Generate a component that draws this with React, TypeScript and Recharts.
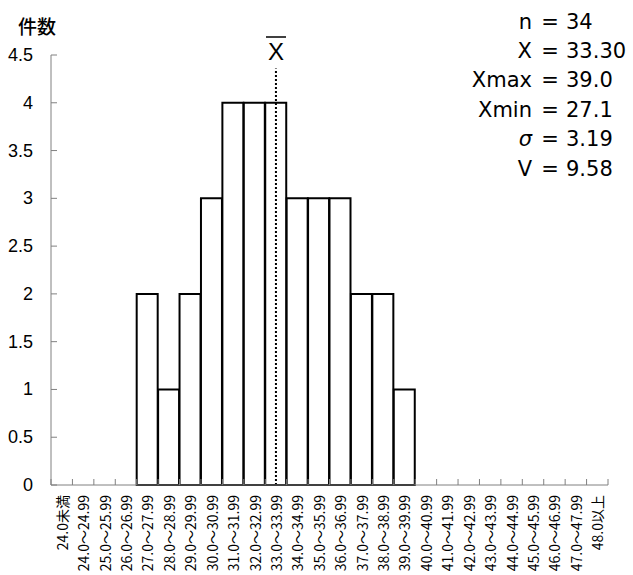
import { BarChart, Bar, XAxis, YAxis, ReferenceLine } from 'recharts';

const categories = [
    '24.0未満', '24.0～24.99', '25.0～25.99', '26.0～26.99', '27.0～27.99',
    '28.0～28.99', '29.0～29.99', '30.0～30.99', '31.0～31.99', '32.0～32.99',
    '33.0～33.99', '34.0～34.99', '35.0～35.99', '36.0～36.99', '37.0～37.99',
    '38.0～38.99', '39.0～39.99', '40.0～40.99', '41.0～41.99', '42.0～42.99',
    '43.0～43.99', '44.0～44.99', '45.0～45.99', '46.0～46.99', '47.0～47.99',
    '48.0以上',
];
const counts = [0, 0, 0, 0, 2, 1, 2, 3, 4, 4, 4, 3, 3, 3, 2, 2, 1, 0, 0, 0, 0, 0, 0, 0, 0, 0];
const yTicks = [0, 0.5, 1, 1.5, 2, 2.5, 3, 3.5, 4, 4.5];
const meanCategory = '33.0～33.99';
const meanLineTop = 4.36;
const statLabels = ['n', 'X', 'Xmax', 'Xmin', 'σ', 'V'];
const statValues = ['34', '33.30', '39.0', '27.1', '3.19', '9.58'];

const data = categories.map((c, i) => ({ range: c, count: counts[i] }));

const AXIS_GRAY = '#808080';
const LATIN = '"Liberation Sans", Arial, sans-serif';
const JP = '"Noto Sans CJK JP", sans-serif';

function YTick(props: any) {
    const { x, y, payload } = props;
    return (
        <g>
            <line x1={x} y1={y} x2={x + 6} y2={y} stroke={AXIS_GRAY} strokeWidth={1} />
            <text x={x - 18} y={y} textAnchor="end" dominantBaseline="central" fontSize={18} fontFamily={LATIN} fill="#000">
                {payload.value}
            </text>
        </g>
    );
}

function XTick(props: any) {
    const { x, y, payload, index } = props;
    const half = payload.offset || 10.7;
    const last = index === categories.length - 1;
    return (
        <g>
            <line x1={x - half} y1={y} x2={x - half} y2={y - 6} stroke={AXIS_GRAY} strokeWidth={1} />
            {last && <line x1={x + half} y1={y} x2={x + half} y2={y - 6} stroke={AXIS_GRAY} strokeWidth={1} />}
            <g transform={`translate(${x},${y + 10})`}>
                <text transform="rotate(-90)" textAnchor="end" dominantBaseline="central" fontSize={14} fontFamily={JP} fill="#000">
                    {payload.value}
                </text>
            </g>
        </g>
    );
}

export default function App() {
    return (
        <div style={{ position: 'absolute', left: 0, top: 0, width: 633, height: 575, background: '#fff' }}>
            <BarChart
                width={633}
                height={575}
                data={data}
                margin={{ top: 55, right: 25, bottom: 0, left: 0 }}
                barCategoryGap={0}
            >
                <XAxis
                    dataKey="range"
                    interval={0}
                    height={90}
                    tickSize={0}
                    tickMargin={0}
                    tickLine={false}
                    axisLine={{ stroke: AXIS_GRAY }}
                    tick={<XTick />}
                />
                <YAxis
                    width={51}
                    domain={[0, 4.5]}
                    ticks={yTicks}
                    tickSize={0}
                    tickMargin={0}
                    tickLine={false}
                    axisLine={{ stroke: AXIS_GRAY }}
                    tick={<YTick />}
                />
                <Bar dataKey="count" fill="#fff" stroke="#000" strokeWidth={2} isAnimationActive={false} />
                <ReferenceLine
                    segment={[{ x: meanCategory, y: 0 }, { x: meanCategory, y: meanLineTop }]}
                    stroke="#000"
                    strokeWidth={2}
                    strokeDasharray="2 2"
                />
            </BarChart>

            <svg width={633} height={575} style={{ position: 'absolute', left: 0, top: 0, pointerEvents: 'none' }}>
                {/* axis title */}
                <text x={37} y={34} textAnchor="middle" fontSize={19} fontWeight={500} fontFamily={JP} fill="#000">件数</text>

                {/* mean label */}
                <line x1={266} y1={37} x2={286} y2={37} stroke="#000" strokeWidth={1.5} />
                <text x={276} y={60} textAnchor="middle" fontSize={24} fontFamily={LATIN} fill="#000">X</text>

                {/* stats */}
                {statLabels.map((label, i) => {
                    const baseline = 28.5 + i * 29.4;
                    return (
                        <g key={label} fontSize={21} fontFamily='"DejaVu Sans", sans-serif' fill="#000">
                            <text x={532} y={baseline} textAnchor="end" fontStyle={label === 'σ' ? 'italic' : 'normal'}>{label}</text>
                            <text x={550} y={baseline} textAnchor="middle">=</text>
                            <text x={566} y={baseline} textAnchor="start">{statValues[i]}</text>
                        </g>
                    );
                })}
            </svg>
        </div>
    );
}
